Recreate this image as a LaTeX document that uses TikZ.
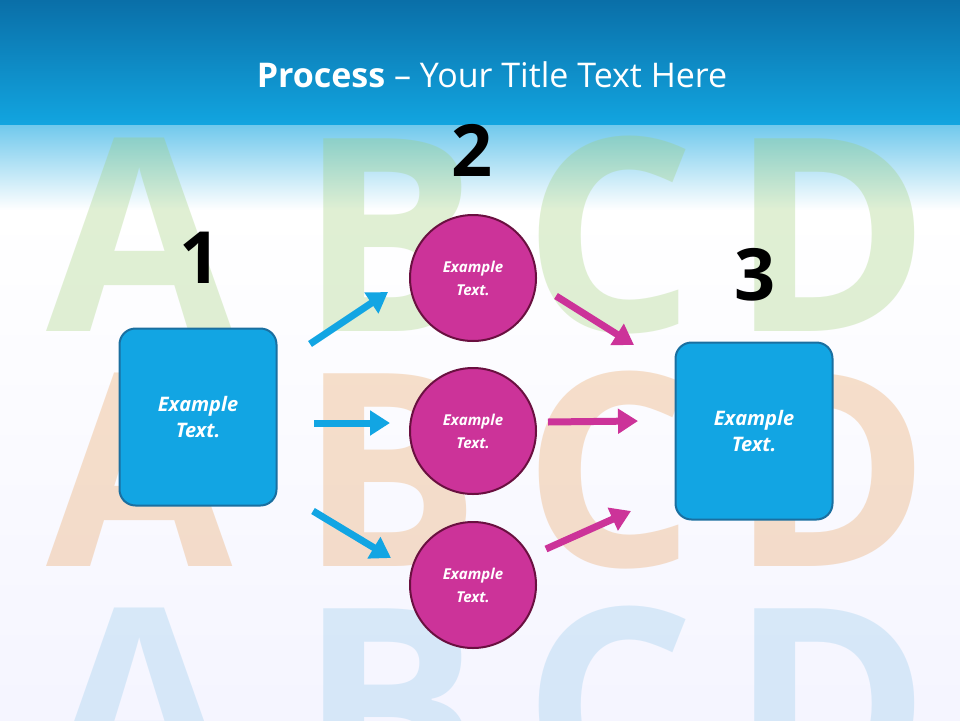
\documentclass[tikz,border=0pt]{standalone}
\usepackage{fontspec}
\setmainfont{Open Sans}
\usetikzlibrary{arrows.meta}
\definecolor{topblue}{HTML}{0A6FA8}
\definecolor{midblue}{HTML}{12A5E0}
\definecolor{boxblue}{HTML}{12A5E3}
\definecolor{boxedge}{HTML}{1A6FA0}
\definecolor{mag}{HTML}{CC3399}
\definecolor{magedge}{HTML}{6A1040}
\definecolor{lgreen}{HTML}{9ACD70}
\definecolor{lorange}{HTML}{E89A50}
\definecolor{lblue}{HTML}{5AAFE0}
\tikzset{
  box/.style={draw=boxedge,line width=2pt,fill=boxblue,rounded corners=16pt,minimum width=157pt,minimum height=177pt,text=white,font=\fontsize{20}{26}\selectfont\bfseries\itshape,align=center},
  circ/.style={draw=magedge,line width=2pt,fill=mag,circle,minimum size=126pt,text=white,font=\fontsize{15}{23}\selectfont\bfseries\itshape,align=center},
  num/.style={font=\fontsize{72}{72}\selectfont\bfseries},
  barrow/.style={draw=boxblue,line width=7pt,-{Triangle[length=20pt,width=24pt]}},
  marrow/.style={draw=mag,line width=7pt,-{Triangle[length=20pt,width=24pt]}},
  bgl/.style={font=\fontsize{270}{270}\selectfont\bfseries,opacity=0.3}
}
\begin{document}
\begin{tikzpicture}[x=1pt,y=-1pt]
\useasboundingbox (0,0) rectangle (960,720);
\fill[white] (0,0) rectangle (960,720);
\fill[top color=topblue,bottom color=midblue] (0,0) rectangle (960,125);
\fill[top color=midblue!60,bottom color=white] (0,125) rectangle (960,210);
\fill[top color=white,bottom color=blue!4] (0,210) rectangle (960,720);
% background letters
\foreach \l/\x in {A/140,B/390,C/610,D/830}{
  \node[bgl,text=lgreen] (g\l) at (\x,235) {\l};
  \node[bgl,text=lorange] (o\l) at (\x,470) {\l};
  \node[bgl,text=lblue,opacity=0.2] (b\l) at (\x,705) {\l};
}
\node[text=white,font=\fontsize{34}{40}\selectfont] (title) at (492,75) {\textbf{Process} -- Your Title Text Here};
\node[num] (n1) at (200,258) {1};
\node[num] (n2) at (472,150) {2};
\node[num] (n3) at (755,275) {3};
\node[box] (L) at (198,417) {Example\\Text.};
\node[box] (R) at (754,431) {Example\\Text.};
\node[circ] (c1) at (473,278) {Example\\Text.};
\node[circ] (c2) at (473,431) {Example\\Text.};
\node[circ] (c3) at (473,585) {Example\\Text.};
\coordinate (a1s) at (310,344); \coordinate (a1e) at (388,292);
\coordinate (a2s) at (314,423); \coordinate (a2e) at (390,423);
\coordinate (a3s) at (313,511); \coordinate (a3e) at (391,558);
\coordinate (m1s) at (556,296); \coordinate (m1e) at (634,345);
\coordinate (m2s) at (548,422); \coordinate (m2e) at (638,421);
\coordinate (m3s) at (546,549); \coordinate (m3e) at (631,511);
\draw[barrow] (a1s) -- (a1e);
\draw[barrow] (a2s) -- (a2e);
\draw[barrow] (a3s) -- (a3e);
\draw[marrow] (m1s) -- (m1e);
\draw[marrow] (m2s) -- (m2e);
\draw[marrow] (m3s) -- (m3e);
\end{tikzpicture}
\end{document}
